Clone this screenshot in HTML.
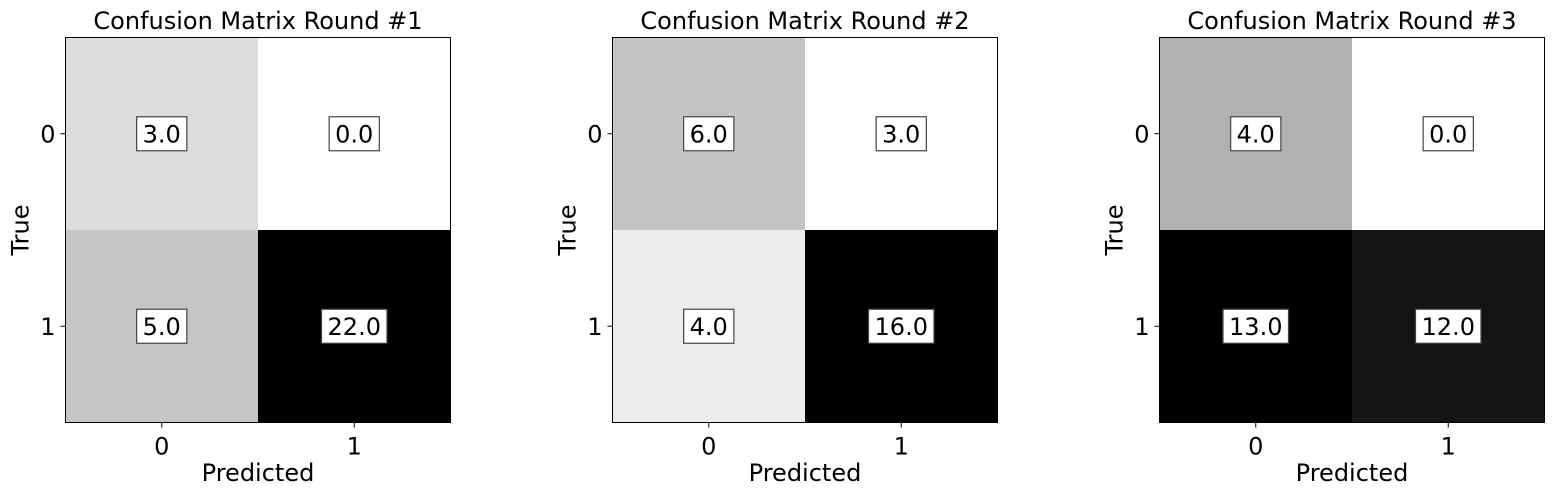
<!DOCTYPE html>
<html><head><meta charset="utf-8"><style>
body{margin:0;background:#fff}
svg text{font-family:"DejaVu Sans","Liberation Sans",sans-serif;fill:#000}
</style></head><body>
<svg id="chart" width="1553" height="495" xmlns="http://www.w3.org/2000/svg"></svg>
<script>
const titles = ["Confusion Matrix Round #1","Confusion Matrix Round #2","Confusion Matrix Round #3"];
const matrix1 = [[3,0],[5,22]];
const matrix2 = [[6,3],[4,16]];
const matrix3 = [[4,0],[13,12]];
const tickLabels = ["0","1"];
const matrices = [matrix1, matrix2, matrix3];
const NS = "http://www.w3.org/2000/svg";
const svgEl = document.getElementById('chart');
function mk(tag, attrs, parent){const e=document.createElementNS(NS,tag);for(const k in attrs)e.setAttribute(k,attrs[k]);(parent||svgEl).appendChild(e);return e;}
const lefts=[65.5,612.5,1159.5], axTop=37.5, size=385, cell=size/2;
matrices.forEach((m,p)=>{
  const g=mk('g',{});
  
  
  const L=lefts[p];
  const flat=m.flat(); const vmin=Math.min(...flat), vmax=Math.max(...flat);
  const xs=c=>L+c*cell, ys=r=>axTop+r*cell;
  m.forEach((row,r)=>row.forEach((v,c)=>{
    const g2=Math.round(255*(1-(v-vmin)/(vmax-vmin)));
    const rc=mk('rect',{x:xs(c),y:ys(r),width:cell,height:cell,fill:`rgb(${g2},${g2},${g2})`},g);
    
    
    const label=v.toFixed(1);
    const w=(label.length-1)*15.3+7.6+12;
    const cx=xs(c)+cell/2, cy=ys(r)+cell/2;
    const b=mk('rect',{x:cx-w/2,y:cy-17,width:w,height:34,fill:'#fff',stroke:'#444','stroke-width':1.2},g);
    
    
    const t=mk('text',{x:cx,y:cy+8.5,'text-anchor':'middle','font-size':24},g);
    t.textContent=label;
    
    
  }));
  const fr=mk('rect',{x:L,y:axTop,width:size,height:size,fill:'none',stroke:'#000','stroke-width':1},g);
  
  
  tickLabels.forEach((tl,i)=>{
    const x=xs(i)+cell/2, y=ys(i)+cell/2;
    mk('line',{x1:x,x2:x,y1:axTop+size,y2:axTop+size+5,stroke:'#000'},g);
    const tx=mk('text',{x:x,y:axTop+size+32,'text-anchor':'middle','font-size':24},g);
    tx.textContent=tl;
    
    
    mk('line',{x1:L,x2:L-5,y1:y,y2:y,stroke:'#000'},g);
    const ty=mk('text',{x:L-10,y:y+8.5,'text-anchor':'end','font-size':24},g);
    ty.textContent=tl;
    
    
  });
  const tt=mk('text',{x:L+size/2,y:29,'text-anchor':'middle','font-size':24},g);
  tt.textContent=titles[p];
  
  
  const xl=mk('text',{x:L+size/2,y:481,'text-anchor':'middle','font-size':24},g);
  xl.textContent='Predicted';
  
  
  const yl=mk('text',{x:0,y:0,'text-anchor':'middle','font-size':24,transform:`translate(${L-37},${axTop+size/2}) rotate(-90)`},g);
  yl.textContent='True';
  
  
});
</script>
</body></html>
